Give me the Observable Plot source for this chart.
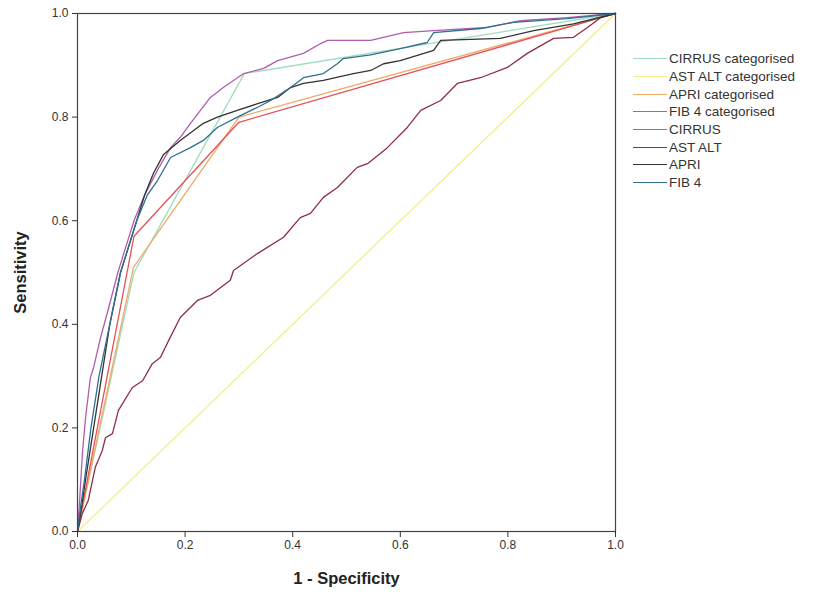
<!DOCTYPE html>
<html><head><meta charset="utf-8">
<script src="https://cdn.jsdelivr.net/npm/d3@7"></script>
<script src="https://cdn.jsdelivr.net/npm/@observablehq/plot@0.6"></script>
<style>
body{margin:0;background:#fff;font-family:Arial,"Liberation Sans",sans-serif;}
#wrap{position:relative;width:819px;height:596px;overflow:hidden;}
#chart{position:absolute;left:0;top:0;}
#legend{position:absolute;left:633px;top:50px;font-size:13.5px;color:#333;font-family:Arial,"Liberation Sans",sans-serif;}
.item{display:flex;align-items:center;height:17.7px;white-space:nowrap;}
.sw{width:34px;height:0;border-top:1.5px solid;margin-right:2px;}
</style></head><body>
<div id="wrap"><div id="chart"></div><div id="legend"></div></div>
<script>
// Series names (legend order = drawing order)
const seriesNames = ["CIRRUS categorised","AST ALT categorised","APRI categorised","FIB 4 categorised","CIRRUS","AST ALT","APRI","FIB 4"];
const seriesColors = ["#9fdcbf","#f3ee8a","#eeaa66","#e6505a","#b25cae","#8c3042","#333333","#2f7090"];

// 1 - Specificity (x) and Sensitivity (y)
const cirrusCatX = [0, 0.105, 0.31, 1];
const cirrusCatY = [0, 0.50, 0.884, 1];
const astaltCatX = [0, 1];
const astaltCatY = [0, 1];
const apriCatX = [0, 0.104, 0.30, 1];
const apriCatY = [0, 0.51, 0.80, 1];
const fib4CatX = [0, 0.105, 0.30, 1];
const fib4CatY = [0, 0.57, 0.79, 1];

const cirrusX = [0, 0.004, 0.009, 0.015, 0.024, 0.03, 0.043, 0.058, 0.075, 0.09, 0.105, 0.125, 0.15, 0.173, 0.191, 0.21, 0.247, 0.271, 0.309, 0.346, 0.372, 0.42, 0.452, 0.465, 0.545, 0.606, 0.662, 0.762, 0.823, 0.91, 1];
const cirrusY = [0, 0.06, 0.15, 0.22, 0.297, 0.317, 0.375, 0.432, 0.5, 0.55, 0.6, 0.65, 0.7, 0.741, 0.761, 0.788, 0.838, 0.857, 0.884, 0.894, 0.909, 0.923, 0.942, 0.948, 0.948, 0.963, 0.967, 0.973, 0.986, 0.992, 1];

const astaltX = [0, 0.009, 0.02, 0.033, 0.046, 0.052, 0.065, 0.076, 0.102, 0.121, 0.139, 0.154, 0.17, 0.191, 0.223, 0.247, 0.284, 0.29, 0.335, 0.383, 0.414, 0.433, 0.457, 0.483, 0.52, 0.539, 0.576, 0.613, 0.638, 0.675, 0.706, 0.749, 0.799, 0.836, 0.885, 0.922, 0.948, 0.972, 1];
const astaltY = [0, 0.035, 0.06, 0.124, 0.156, 0.181, 0.189, 0.234, 0.278, 0.291, 0.324, 0.336, 0.37, 0.413, 0.446, 0.456, 0.485, 0.504, 0.537, 0.568, 0.606, 0.614, 0.645, 0.664, 0.703, 0.71, 0.741, 0.78, 0.813, 0.832, 0.865, 0.876, 0.896, 0.923, 0.952, 0.954, 0.973, 0.992, 1];

const apriX = [0, 0.008, 0.015, 0.03, 0.045, 0.06, 0.08, 0.095, 0.11, 0.125, 0.141, 0.16, 0.191, 0.234, 0.26, 0.297, 0.335, 0.372, 0.396, 0.42, 0.457, 0.513, 0.545, 0.569, 0.6, 0.662, 0.675, 0.786, 0.848, 0.922, 1];
const apriY = [0, 0.05, 0.1, 0.2, 0.3, 0.4, 0.5, 0.55, 0.6, 0.65, 0.691, 0.728, 0.755, 0.788, 0.8, 0.813, 0.826, 0.838, 0.857, 0.865, 0.871, 0.884, 0.89, 0.903, 0.909, 0.929, 0.948, 0.952, 0.967, 0.98, 1];

const fib4X = [0, 0.006, 0.013, 0.025, 0.04, 0.06, 0.08, 0.095, 0.11, 0.13, 0.149, 0.173, 0.21, 0.234, 0.26, 0.297, 0.335, 0.359, 0.396, 0.42, 0.457, 0.483, 0.494, 0.545, 0.6, 0.65, 0.662, 0.749, 0.81, 0.91, 1];
const fib4Y = [0, 0.05, 0.1, 0.2, 0.3, 0.4, 0.5, 0.55, 0.6, 0.65, 0.678, 0.722, 0.741, 0.755, 0.78, 0.8, 0.819, 0.832, 0.857, 0.876, 0.884, 0.903, 0.913, 0.92, 0.932, 0.944, 0.963, 0.971, 0.983, 0.99, 1];

const tickValues = [0, 0.2, 0.4, 0.6, 0.8, 1.0];

const seriesXY = [
  [cirrusCatX, cirrusCatY], [astaltCatX, astaltCatY], [apriCatX, apriCatY], [fib4CatX, fib4CatY],
  [cirrusX, cirrusY], [astaltX, astaltY], [apriX, apriY], [fib4X, fib4Y]
];
const rows = [];
seriesXY.forEach(([xs, ys], i) => xs.forEach((x, j) => rows.push({series: seriesNames[i], x, y: ys[j]})));

const chart = Plot.plot({
  width: 625, height: 596,
  marginLeft: 77, marginRight: 10, marginTop: 13, marginBottom: 65,
  style: {fontFamily: "Arial, 'Liberation Sans', sans-serif", fontSize: "12px", color: "#333", background: "#fff", overflow: "visible"},
  x: {domain: [0, 1]},
  y: {domain: [0, 1]},
  color: {domain: seriesNames, range: seriesColors},
  marks: [
    Plot.line(rows, {x: "x", y: "y", z: "series", stroke: "series", strokeWidth: 1.3}),
    Plot.frame({stroke: "#444", strokeWidth: 1.2}),
    Plot.axisX({ticks: tickValues, tickFormat: d => d.toFixed(1), tickSize: 6, tickPadding: 3, label: null, fontSize: 12, stroke: "#333"}),
    Plot.axisY({ticks: tickValues, tickFormat: d => d.toFixed(1), tickSize: 5, tickPadding: 4, label: null, fontSize: 12, stroke: "#333"}),
    Plot.text(["1 - Specificity"], {text: d => d, frameAnchor: "bottom", textAnchor: "middle", dy: 52, fontWeight: "bold", fontSize: 16.5, fill: "#222"}),
    Plot.text(["Sensitivity"], {text: d => d, frameAnchor: "left", textAnchor: "middle", dx: -57, rotate: -90, fontWeight: "bold", fontSize: 16.5, fill: "#222"})
  ]
});
document.getElementById("chart").appendChild(chart);

const legend = document.getElementById("legend");
seriesNames.forEach((n, i) => {
  const it = document.createElement("div");
  it.className = "item";
  const sw = document.createElement("span");
  sw.className = "sw";
  sw.style.borderTopColor = seriesColors[i];
  const t = document.createElement("span");
  t.textContent = n;
  it.appendChild(sw); it.appendChild(t);
  legend.appendChild(it);
});
</script></body></html>
